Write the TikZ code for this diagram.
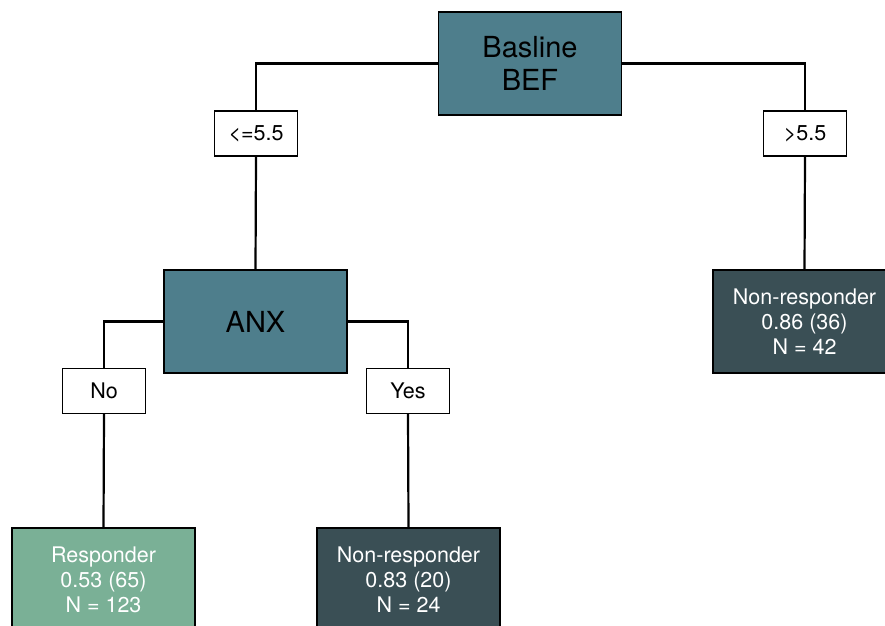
\documentclass[tikz,border=0pt]{standalone}
\usepackage{fontspec}
\setmainfont{TeX Gyre Heros}
\definecolor{splitfill}{HTML}{4E7E8C}
\definecolor{darkleaf}{HTML}{3A4F55}
\definecolor{greenleaf}{HTML}{7AB096}
\begin{document}
\begin{tikzpicture}[x=1pt,y=-1pt,
  splitbox/.style={draw=black, line width=1.5pt, fill=splitfill, minimum width=183pt, minimum height=103pt, inner sep=0pt, align=center, font=\fontsize{29}{33}\selectfont},
  condbox/.style={draw=black, line width=1.3pt, fill=white, minimum width=83pt, minimum height=45pt, inner sep=0pt, font=\fontsize{21.5}{24}\selectfont},
  leafbox/.style={draw=black, line width=1.5pt, minimum width=183pt, minimum height=103pt, inner sep=0pt, align=center, text=white, font=\fontsize{21.5}{25}\selectfont},
  conn/.style={line width=2.2pt, black}]
\useasboundingbox (0,0) rectangle (885,625);
\clip (0,0) rectangle (885,625);
\node[splitbox] (root) at (530,63.5) {Basline\\BEF};
\node[condbox] (le) at (256,133.5) {<=5.5};
\node[condbox] (gt) at (805,133.5) {>5.5};
\node[splitbox] (anx) at (255.5,321.5) {ANX};
\node[leafbox, fill=darkleaf] (nr1) at (804.5,321.5) {Non-responder\\0.86 (36)\\N = 42};
\node[condbox] (no) at (104,391) {No};
\node[condbox] (yes) at (408,391) {Yes};
\node[leafbox, fill=greenleaf] (resp) at (103.5,579.5) {Responder\\0.53 (65)\\N = 123};
\node[leafbox, fill=darkleaf] (nr2) at (408.5,579.5) {Non-responder\\0.83 (20)\\N = 24};
\draw[conn] (root.west) -| (le.north);
\draw[conn] (le.south) -- (anx.north);
\draw[conn] (root.east) -| (gt.north);
\draw[conn] (gt.south) -- (nr1.north);
\draw[conn] (anx.west) -| (no.north);
\draw[conn] (no.south) -- (resp.north);
\draw[conn] (anx.east) -| (yes.north);
\draw[conn] (yes.south) -- (nr2.north);
\end{tikzpicture}
\end{document}
